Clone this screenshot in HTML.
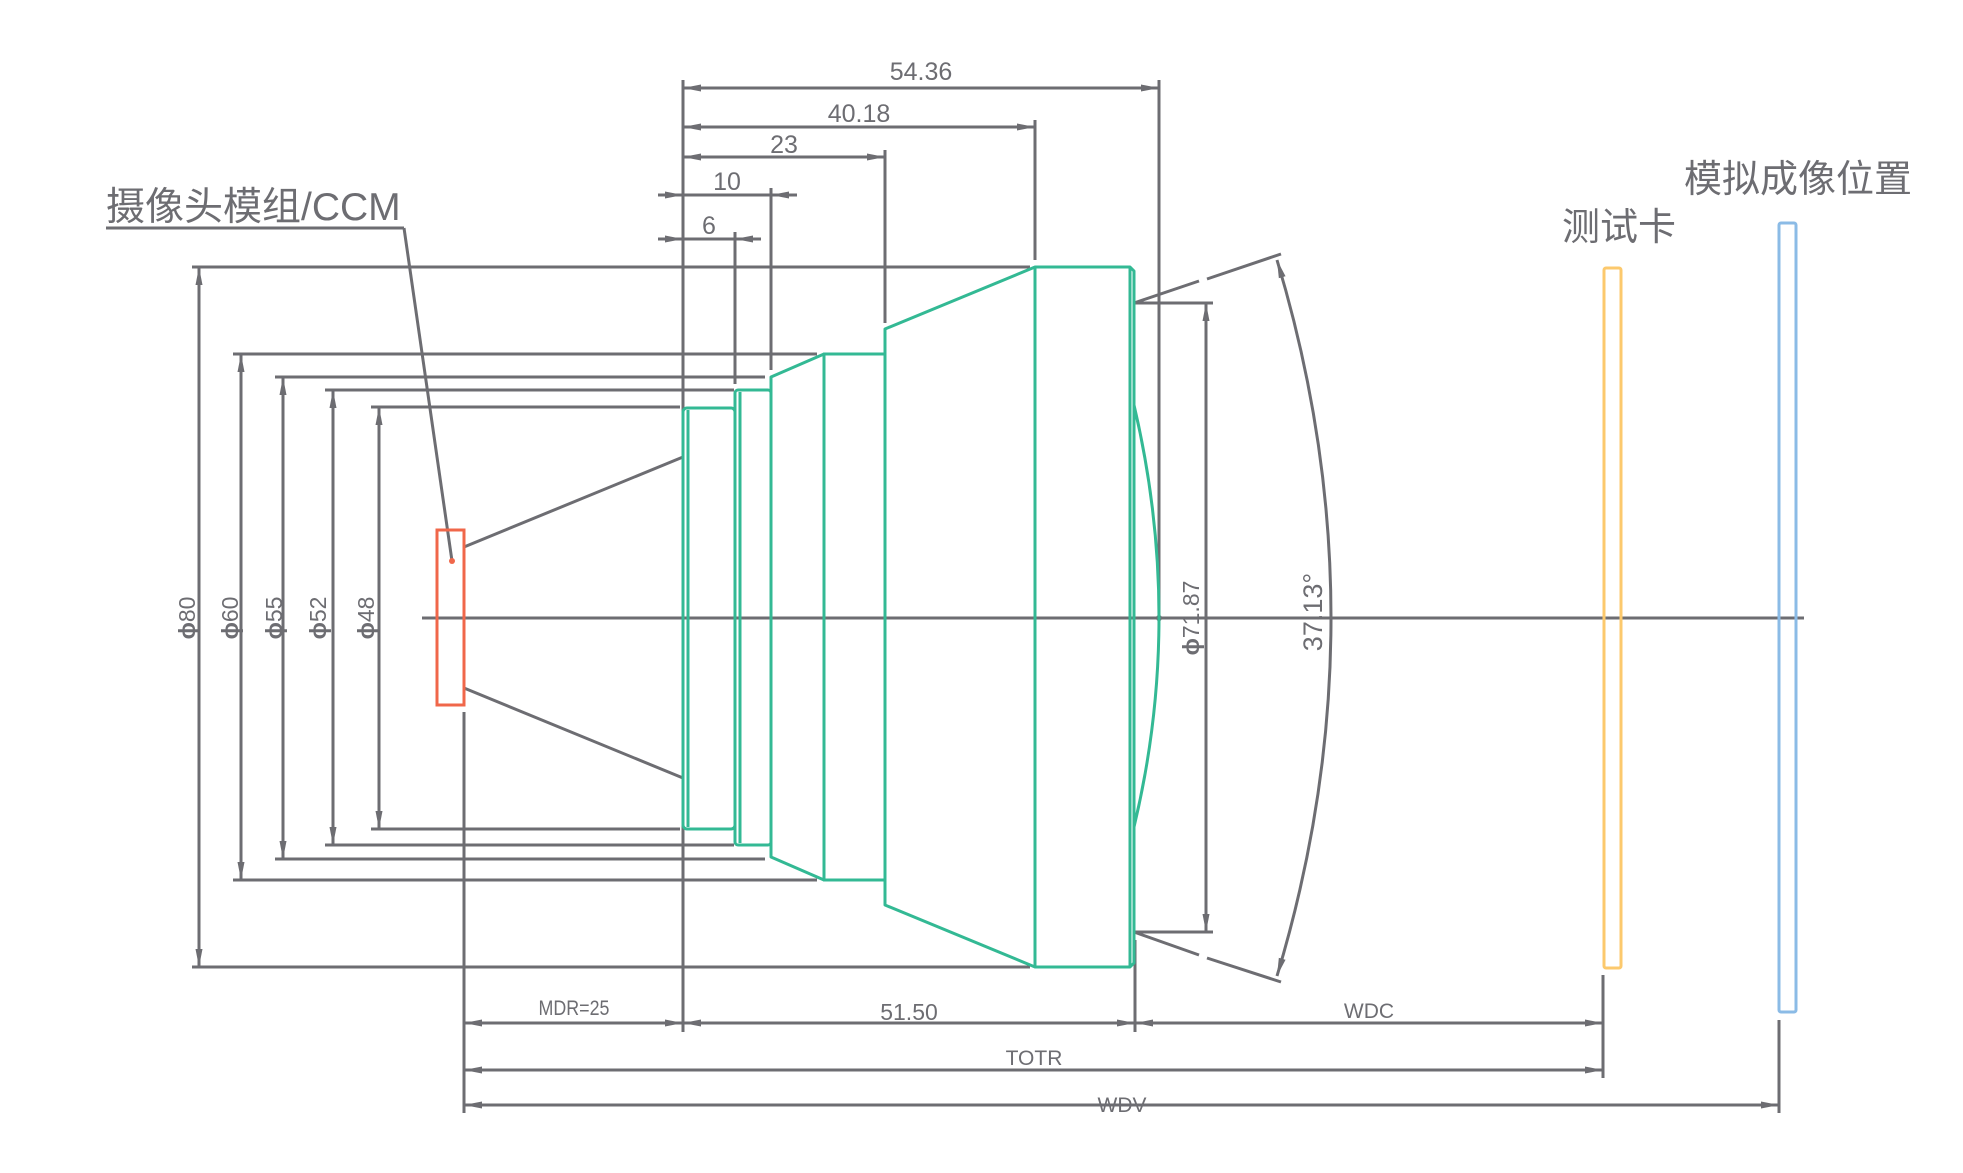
<!DOCTYPE html>
<html><head><meta charset="utf-8"><style>
html,body{margin:0;padding:0;background:#fff;}
svg{display:block;}
text{font-family:"Liberation Sans","Noto Sans CJK SC",sans-serif;fill:#6d6d72;}
</style></head><body>
<svg width="1963" height="1173" viewBox="0 0 1963 1173" xmlns="http://www.w3.org/2000/svg">
<defs>
<marker id="a" viewBox="0 0 18 10" refX="18" refY="5" markerWidth="18" markerHeight="10" markerUnits="userSpaceOnUse" orient="auto-start-reverse"><path d="M0,1.5 L18,5 L0,8.5 Z" fill="#6d6d72"/></marker>
</defs>
<g stroke="#6d6d72" stroke-width="3" fill="none">
<line x1="422" y1="618" x2="1804" y2="618"/>
<line x1="683" y1="80" x2="683" y2="1032"/>
<line x1="683" y1="88" x2="1159" y2="88" marker-start="url(#a)" marker-end="url(#a)"/>
<line x1="1159" y1="80" x2="1159" y2="618"/>
<line x1="683" y1="127" x2="1035" y2="127" marker-start="url(#a)" marker-end="url(#a)"/>
<line x1="1035" y1="120" x2="1035" y2="260"/>
<line x1="683" y1="157" x2="885" y2="157" marker-start="url(#a)" marker-end="url(#a)"/>
<line x1="885" y1="150" x2="885" y2="323"/>
<line x1="658" y1="195" x2="683" y2="195" marker-end="url(#a)"/>
<line x1="683" y1="195" x2="771" y2="195"/>
<line x1="797" y1="195" x2="771" y2="195" marker-end="url(#a)"/>
<line x1="771" y1="188" x2="771" y2="370"/>
<line x1="658" y1="239" x2="683" y2="239" marker-end="url(#a)"/>
<line x1="683" y1="239" x2="735" y2="239"/>
<line x1="761" y1="239" x2="735" y2="239" marker-end="url(#a)"/>
<line x1="735" y1="232" x2="735" y2="384"/>
<line x1="192" y1="267" x2="1030" y2="267"/><line x1="192" y1="967" x2="1030" y2="967"/>
<line x1="199" y1="267" x2="199" y2="967" marker-start="url(#a)" marker-end="url(#a)"/>
<line x1="233" y1="354" x2="817" y2="354"/><line x1="233" y1="880" x2="817" y2="880"/>
<line x1="241" y1="354" x2="241" y2="880" marker-start="url(#a)" marker-end="url(#a)"/>
<line x1="275" y1="377" x2="765" y2="377"/><line x1="275" y1="859" x2="765" y2="859"/>
<line x1="283" y1="377" x2="283" y2="859" marker-start="url(#a)" marker-end="url(#a)"/>
<line x1="325" y1="390" x2="734" y2="390"/><line x1="325" y1="845" x2="734" y2="845"/>
<line x1="333" y1="390" x2="333" y2="845" marker-start="url(#a)" marker-end="url(#a)"/>
<line x1="371" y1="407" x2="680" y2="407"/><line x1="371" y1="829" x2="680" y2="829"/>
<line x1="379" y1="407" x2="379" y2="829" marker-start="url(#a)" marker-end="url(#a)"/>
<line x1="106" y1="228" x2="404" y2="228"/>
<line x1="404" y1="228" x2="452" y2="561"/>
<line x1="464" y1="547" x2="683" y2="457"/>
<line x1="464" y1="688" x2="683" y2="778"/>
<line x1="464" y1="712" x2="464" y2="1113"/>
<line x1="1134" y1="303" x2="1213" y2="303"/>
<line x1="1134" y1="932" x2="1213" y2="932"/>
<line x1="1206" y1="303" x2="1206" y2="932" marker-start="url(#a)" marker-end="url(#a)"/>
<line x1="1134" y1="303" x2="1199" y2="281"/><line x1="1207" y1="279" x2="1281" y2="254"/>
<line x1="1134" y1="932" x2="1199" y2="955"/><line x1="1207" y1="958" x2="1281" y2="982"/>
<path d="M1277,260 Q1385,618 1277,976" marker-start="url(#a)" marker-end="url(#a)"/>
<line x1="1135" y1="940" x2="1135" y2="1032"/>
<line x1="1603" y1="975" x2="1603" y2="1078"/>
<line x1="1779" y1="1020" x2="1779" y2="1113"/>
<line x1="464" y1="1023" x2="683" y2="1023" marker-start="url(#a)" marker-end="url(#a)"/>
<line x1="683" y1="1023" x2="1135" y2="1023" marker-start="url(#a)" marker-end="url(#a)"/>
<line x1="1135" y1="1023" x2="1603" y2="1023" marker-start="url(#a)" marker-end="url(#a)"/>
<line x1="464" y1="1070" x2="1603" y2="1070" marker-start="url(#a)" marker-end="url(#a)"/>
<line x1="464" y1="1105" x2="1779" y2="1105" marker-start="url(#a)" marker-end="url(#a)"/>
</g>
<circle cx="1159" cy="618" r="3" fill="#6d6d72"/>
<g stroke="#33b994" stroke-width="3" fill="none" stroke-linejoin="round">
<rect x="683" y="408" width="52" height="421" rx="4"/>
<line x1="688" y1="410" x2="688" y2="827"/>
<rect x="735" y="390" width="36" height="455" rx="3"/>
<line x1="740" y1="392" x2="740" y2="843"/>
<path d="M771,377 L824,354 L824,880 L771,857 Z"/>
<rect x="824" y="354" width="61" height="526"/>
<path d="M885,329 L1035,267 L1130,267 L1134,271 L1134,963 L1130,967 L1035,967 L885,905 Z"/>
<line x1="1035" y1="267" x2="1035" y2="967"/>
<line x1="1130" y1="267" x2="1130" y2="967"/>
<path d="M1134,405 Q1184,618 1134,827"/>
</g>
<rect x="437" y="530" width="27" height="175" fill="none" stroke="#f0674a" stroke-width="3"/>
<circle cx="452" cy="561" r="3" fill="#f0674a"/>
<rect x="1604" y="268" width="17" height="700" rx="2" fill="none" stroke="#fcc96d" stroke-width="3"/>
<rect x="1779" y="223" width="17" height="789" rx="2" fill="none" stroke="#8bbbe6" stroke-width="3"/>
<g font-size="25" text-anchor="middle">
<text x="921" y="80">54.36</text>
<text x="859" y="122">40.18</text>
<text x="784" y="153">23</text>
<text x="727" y="190">10</text>
<text x="709" y="234">6</text>
</g>
<g font-size="23" text-anchor="middle">
<text transform="translate(195,618) rotate(-90)"><tspan font-weight="bold">ϕ</tspan>80</text>
<text transform="translate(238,618) rotate(-90)"><tspan font-weight="bold">ϕ</tspan>60</text>
<text transform="translate(282,618) rotate(-90)"><tspan font-weight="bold">ϕ</tspan>55</text>
<text transform="translate(326,618) rotate(-90)"><tspan font-weight="bold">ϕ</tspan>52</text>
<text transform="translate(374,618) rotate(-90)"><tspan font-weight="bold">ϕ</tspan>48</text>
<text transform="translate(1199,618) rotate(-90)"><tspan font-weight="bold">ϕ</tspan>71.87</text>
<text transform="translate(1322,612) rotate(-90)" font-size="27">37.13°</text>
</g>
<g font-size="21" text-anchor="middle">
<text x="574" y="1015" transform="translate(574,0) scale(0.85,1) translate(-574,0)">MDR=25</text>
<text x="909" y="1020" font-size="23">51.50</text>
<text x="1369" y="1018">WDC</text>
<text x="1034" y="1065">TOTR</text>
<text x="1122" y="1112">WDV</text>
</g>
<text x="106" y="220" font-size="39">摄像头模组/CCM</text>
<text x="1562" y="240" font-size="38">测试卡</text>
<text x="1684" y="192" font-size="38">模拟成像位置</text>
</svg>
</body></html>
